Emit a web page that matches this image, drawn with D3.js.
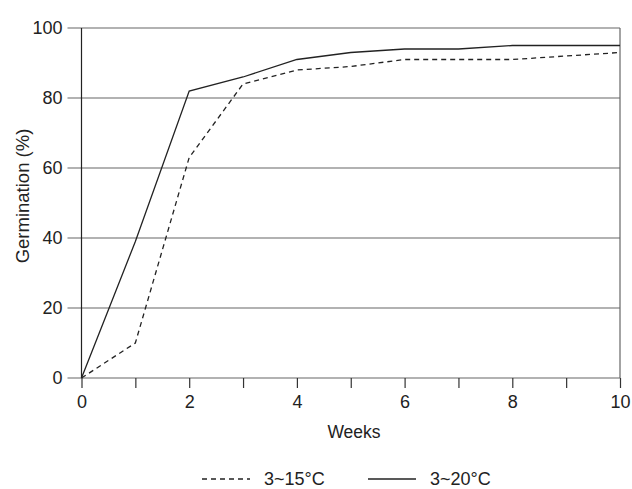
<!DOCTYPE html>
<html lang="en">
<head>
  <meta charset="UTF-8">
  <title>Germination by week</title>
  <script src="https://d3js.org/d3.v7.min.js"></script>
  <style>
    body {
      margin: 0;
      background: #fff;
      font-family: "Liberation Sans", Arial, sans-serif;
    }
    .line {
      fill: none;
      stroke: #222;
      stroke-width: 1.3px;
    }
    text {
      font-size: 18px;
      fill: #222;
    }
  </style>
</head>
<body>
  <svg width="632" height="489"></svg>

  <script>
    const weeks = [0, 1, 2, 3, 4, 5, 6, 7, 8, 9, 10];
    const germ15 = [0, 10, 63, 84, 88, 89, 91, 91, 91, 92, 93];
    const germ20 = [0, 39, 82, 86, 91, 93, 94, 94, 95, 95, 95];
    const xTickLabels = [0, 2, 4, 6, 8, 10];
    const yTicks = [0, 20, 40, 60, 80, 100];
    const seriesNames = ["3~15°C", "3~20°C"];

    const svg = d3.select("svg");
    const margin = { top: 28, right: 12, bottom: 111, left: 81.5 };
    const width = +svg.attr("width");
    const height = +svg.attr("height");
    const font = "Liberation Sans, Arial, sans-serif";

    const x = d3.scaleLinear()
      .domain([0, 10])
      .range([margin.left, width - margin.right]);

    const y = d3.scaleLinear()
      .domain([0, 100])
      .range([height - margin.bottom, margin.top]);

    // horizontal grid lines, starting at the outer end of the y ticks
    svg.append("g")
      .selectAll("line")
      .data(yTicks)
      .join("line")
      .attr("x1", margin.left - 14)
      .attr("x2", x(10))
      .attr("y1", d => y(d))
      .attr("y2", d => y(d))
      .attr("stroke", "#666")
      .attr("stroke-width", 1.2);

    // right border
    svg.append("line")
      .attr("x1", x(10)).attr("x2", x(10))
      .attr("y1", y(100)).attr("y2", y(0))
      .attr("stroke", "#666")
      .attr("stroke-width", 1.2);

    const xAxis = svg.append("g")
      .attr("transform", `translate(0,${y(0)})`)
      .call(d3.axisBottom(x)
        .tickValues(weeks)
        .tickSize(10)
        .tickPadding(7)
        .tickFormat(d => xTickLabels.includes(d) ? d : ""));
    xAxis.select(".domain").remove();
    xAxis.selectAll(".tick line").attr("stroke", "#333").attr("stroke-width", 1.2);
    xAxis.selectAll("text").attr("font-size", 18).attr("fill", "#222")
      .attr("font-family", font);

    const yAxis = svg.append("g")
      .attr("transform", `translate(${margin.left},0)`)
      .call(d3.axisLeft(y)
        .tickValues(yTicks)
        .tickSize(14)
        .tickPadding(5));
    yAxis.select(".domain").attr("stroke", "#222").attr("stroke-width", 1.2)
      .attr("d", `M0,${y(0)}V${y(100)}`);
    yAxis.selectAll(".tick line").remove();
    yAxis.selectAll("text").attr("font-size", 18).attr("fill", "#222")
      .attr("font-family", font);

    const line = d3.line()
      .x((d, i) => x(weeks[i]))
      .y(d => y(d));

    svg.append("path")
      .datum(germ15)
      .attr("class", "line")
      .attr("stroke-dasharray", "5,4")
      .attr("d", line);

    svg.append("path")
      .datum(germ20)
      .attr("class", "line")
      .attr("d", line);

    svg.append("text")
      .attr("x", 354)
      .attr("y", 438)
      .attr("text-anchor", "middle")
      .style("font-size", "17.5px")
      .text("Weeks");

    svg.append("text")
      .attr("transform", "translate(29,196) rotate(-90)")
      .attr("text-anchor", "middle")
      .style("font-size", "18.5px")
      .text("Germination (%)");

    // legend
    const legend = svg.append("g");
    const legendItems = [
      { name: seriesNames[0], x0: 202, dash: "5,4" },
      { name: seriesNames[1], x0: 368, dash: null }
    ];
    legendItems.forEach(item => {
      legend.append("line")
        .attr("x1", item.x0).attr("x2", item.x0 + 48)
        .attr("y1", 479).attr("y2", 479)
        .attr("stroke", "#222")
        .attr("stroke-width", 1.3)
        .attr("stroke-dasharray", item.dash);
      legend.append("text")
        .attr("x", item.x0 + 62)
        .attr("y", 485)
        .text(item.name);
    });
  </script>
</body>
</html>
